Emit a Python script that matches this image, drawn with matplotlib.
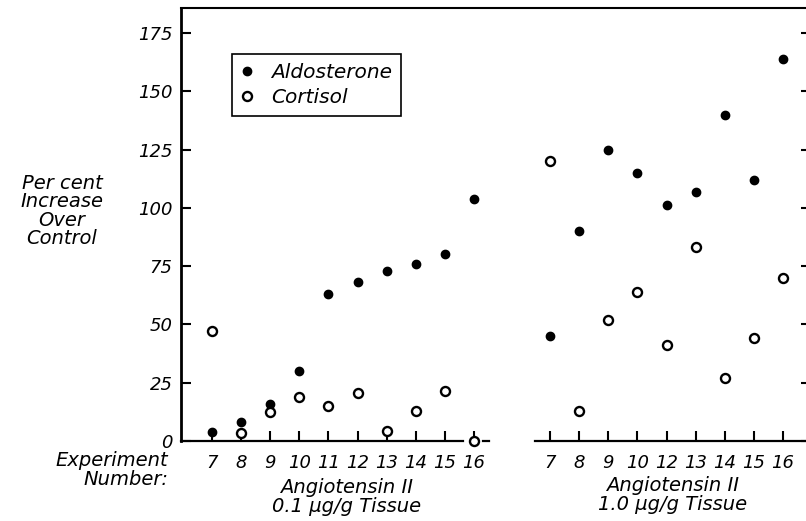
import numpy as np
import matplotlib
matplotlib.use('Agg')
from matplotlib import pyplot as plt

# experiment numbers for each dose group
exp_low = ['7', '8', '9', '10', '11', '12', '13', '14', '15', '16']
exp_high = ['7', '8', '9', '10', '12', '13', '14', '15', '16']

# per cent increase over control
aldo_low = [4, 8, 16, 30, 63, 68, 73, 76, 80, 104]
cort_low = [47, 3.5, 12.5, 19, 15, 20.5, 4.5, 13, 21.5, 0]
aldo_high = [45, 90, 125, 115, 101, 107, 140, 112, 164]
cort_high = [120, 13, 52, 64, 41, 83, 27, 44, 70]

yticks = [0, 25, 50, 75, 100, 125, 150, 175]

plt.rcParams['font.family'] = ['DejaVu Sans']
plt.rcParams['font.style'] = 'italic'
plt.rcParams['font.size'] = 13

fig = plt.figure(figsize=(8.06, 5.21), dpi=100)
ax = fig.add_axes([181/806, 1 - 441/521, 1 - 181/806, 433/521])

# x positions of the two groups (second group shifted right, leaving a gap)
x_low = np.arange(len(exp_low))
x_high = np.arange(len(exp_high)) + 11.62

filled = dict(marker='o', ls='none', color='k', ms=6, clip_on=False)
hollow = dict(marker='o', ls='none', mfc='white', mec='k', ms=6.5, mew=1.7, clip_on=False)

ax.plot(x_low, aldo_low, label='Aldosterone', **filled)
ax.plot(x_low, cort_low, label='Cortisol', **hollow)
ax.plot(x_high, aldo_high, **filled)
ax.plot(x_high, cort_high, **hollow)

ax.set_xlim(-1.065, 20.41)
ax.set_ylim(0, 185.7)

# broken baseline
ax.plot([-1.065, 8.63], [0, 0], color='k', lw=1.6, clip_on=False)
ax.plot([9.31, 9.52], [0, 0], color='k', lw=1.6, clip_on=False)
ax.plot([11.1, 20.41], [0, 0], color='k', lw=1.6, clip_on=False)

ax.spines['bottom'].set_visible(False)
ax.spines['right'].set_visible(False)
ax.spines['left'].set_linewidth(2)
ax.spines['top'].set_linewidth(1.5)

ax.set_xticks(list(x_low) + list(x_high))
ax.set_xticklabels(exp_low + exp_high)
ax.set_yticks(yticks)
ax.set_yticklabels([str(v) for v in yticks])

ax.tick_params(axis='x', direction='in', length=7, width=1.5, pad=9, labelsize=13)
ax.tick_params(axis='y', direction='in', length=7, width=1.5, pad=6, labelsize=13,
               right=True)
# right-hand ticks are shorter
for t in ax.yaxis.get_major_ticks():
    t.tick2line.set_markersize(3.5)

leg = ax.legend(loc='upper left', bbox_to_anchor=(232/806, 1 - 54/521),
                bbox_transform=fig.transFigure, fancybox=False, framealpha=1,
                edgecolor='k', handlelength=0.6, handletextpad=0.9,
                borderpad=0.45, labelspacing=0.3, borderaxespad=0, fontsize=14.5)
leg.get_frame().set_linewidth(1.2)

fig.text(62/806, 1 - 211/521, 'Per cent\nIncrease\nOver\nControl',
         ha='center', va='center', multialignment='center', linespacing=0.95,
         fontsize=14)
fig.text(168/806, 1 - 470/521, 'Experiment\nNumber:', ha='right', va='center',
         multialignment='right', linespacing=0.95, fontsize=14)
fig.text(347/806, 1 - 497/521, 'Angiotensin II\n0.1 μg/g Tissue', ha='center',
         va='center', linespacing=1.0, fontsize=14)
fig.text(673/806, 1 - 495/521, 'Angiotensin II\n1.0 μg/g Tissue', ha='center',
         va='center', linespacing=1.0, fontsize=14)

fig.savefig('out.png', dpi=100)
